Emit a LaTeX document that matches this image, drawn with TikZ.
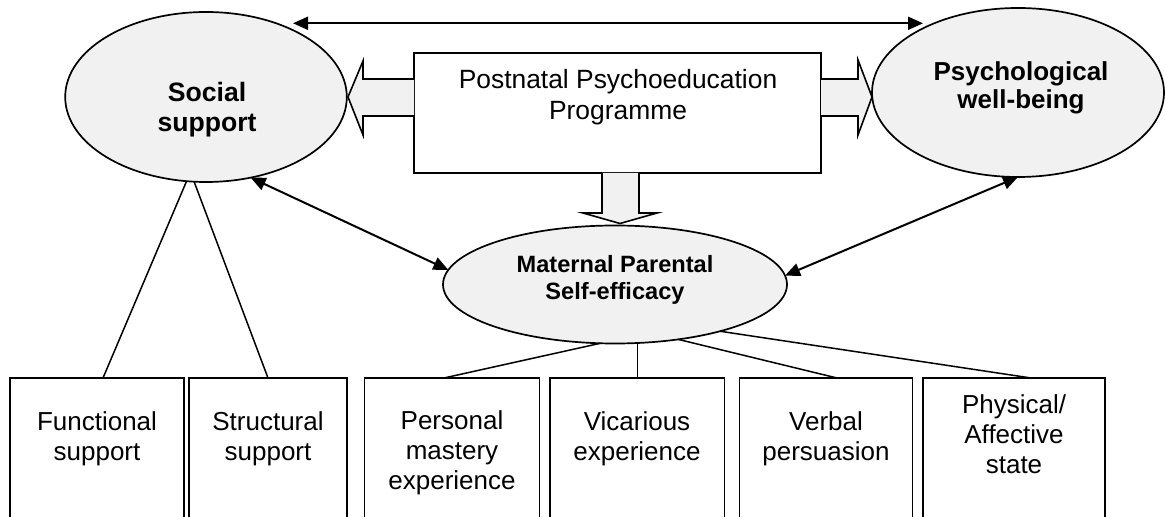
\documentclass[tikz,border=0pt]{standalone}
\usepackage{fontspec}
\setmainfont{Liberation Sans}
\usetikzlibrary{arrows.meta,shapes.geometric}
\definecolor{lg}{HTML}{F1F1F1}
\begin{document}
\begin{tikzpicture}[x=0.5pt,y=-0.5pt,
  ell/.style={ellipse, draw, line width=0.85pt, fill=lg, inner sep=0pt, outer sep=0pt},
  boxnode/.style={rectangle, draw, line width=0.9pt, fill=white, inner sep=0pt, outer sep=0pt},
  txt/.style={align=center, inner sep=0pt, font=\fontsize{13}{15}\selectfont},
  btxt/.style={align=center, inner sep=0pt},
  link/.style={line width=0.75pt},
  dbl/.style={line width=1pt, {Triangle[length=7.5pt,width=6.5pt]}-{Triangle[length=7.5pt,width=6.5pt]}},
  blockarrow/.style={draw, line width=0.8pt, fill=lg}
]
\useasboundingbox (0,0) rectangle (1165,517);
\clip (0,0) rectangle (1165,517);

% ellipses
\node[ell, minimum width=140.8pt, minimum height=85pt] (ss) at (206,97) {};
\node[ell, minimum width=146pt, minimum height=84.5pt] (pw) at (1018,92.5) {};
\node[ell, minimum width=172pt, minimum height=59pt] (mp) at (615,284.5) {};

% programme box
\node[boxnode, minimum width=203.5pt, minimum height=60pt] (pp) at (617.5,113) {};

% block arrows
\draw[blockarrow] (pp.west |- 0,79) -- (363,79) -- (363,61) -- (348,97) -- (363,135) -- (363,116) -- (pp.west |- 0,116);
\draw[blockarrow] (pp.east |- 0,79) -- (858,79) -- (858,60) -- (872,97) -- (858,135) -- (858,116) -- (pp.east |- 0,116);
\draw[blockarrow] (602,173) -- (602,213) -- (583,213) -- (620,223.5) -- (657,213) -- (639,213) -- (639,173);

% texts of top nodes
\node[btxt, font=\bfseries\fontsize{13.3}{15}\selectfont] (sst) at (207,110) {Social\\support};
\node[btxt, font=\bfseries\fontsize{13}{13.7}\selectfont] (pwt) at (1021,88) {Psychological\\well-being};
\node[btxt, font=\bfseries\fontsize{11.8}{13.7}\selectfont] (mpt) at (615,280) {Maternal Parental\\Self-efficacy};
\node[btxt, font=\fontsize{13.2}{15.5}\selectfont] (ppt) at (618,96.75) {Postnatal Psychoeducation\\Programme};

% bottom boxes
\node[boxnode, anchor=north, minimum width=87pt, minimum height=91pt] (fs) at (97,378) {};
\node[boxnode, anchor=north, minimum width=79.25pt, minimum height=91pt] (st) at (268,378) {};
\node[boxnode, anchor=north, minimum width=87.5pt, minimum height=91pt] (pm) at (452,378) {};
\node[boxnode, anchor=north, minimum width=87.25pt, minimum height=91pt] (ve) at (637.3,378) {};
\node[boxnode, anchor=north, minimum width=86.5pt, minimum height=91pt] (vp) at (826,378) {};
\node[boxnode, anchor=north, minimum width=91pt, minimum height=91pt] (pa) at (1014,378) {};

\node[txt] (fst) at (97,438.3) {Functional\\support};
\node[txt] (stt) at (268,438.3) {Structural\\support};
\node[txt] (pmt) at (452,453) {Personal\\mastery\\experience};
\node[txt] (vet) at (637,438.3) {Vicarious\\experience};
\node[txt] (vpt) at (826,438.3) {Verbal\\persuasion};
\node[txt] (pat) at (1014,433.8) {Physical/\\Affective\\state};

% top double arrow
\coordinate (tl) at (293,23.3);
\coordinate (tr) at (923,23.3);
\draw[dbl] (tl) -- (tr);

% diagonal double arrows
\draw[dbl] (ss.-61) -- (mp.175);
\draw[dbl] (pw.south) -- (mp.3);

% tree lines
\draw[link] (ss.-103.7) -- ([xshift=3pt]fs.north);
\draw[link] (ss.-98.5) -- (st.north);
\draw[link] (mp.-104.3) -- ([xshift=-4pt]pm.north);
\draw[link] (ve.north) -- (ve.north |- mp.south);
\draw[link] (mp.-41.4) -- ([xshift=5.5pt]vp.north);
\draw[link] (mp.-24.2) -- ([xshift=8.5pt]pa.north);
\end{tikzpicture}
\end{document}
